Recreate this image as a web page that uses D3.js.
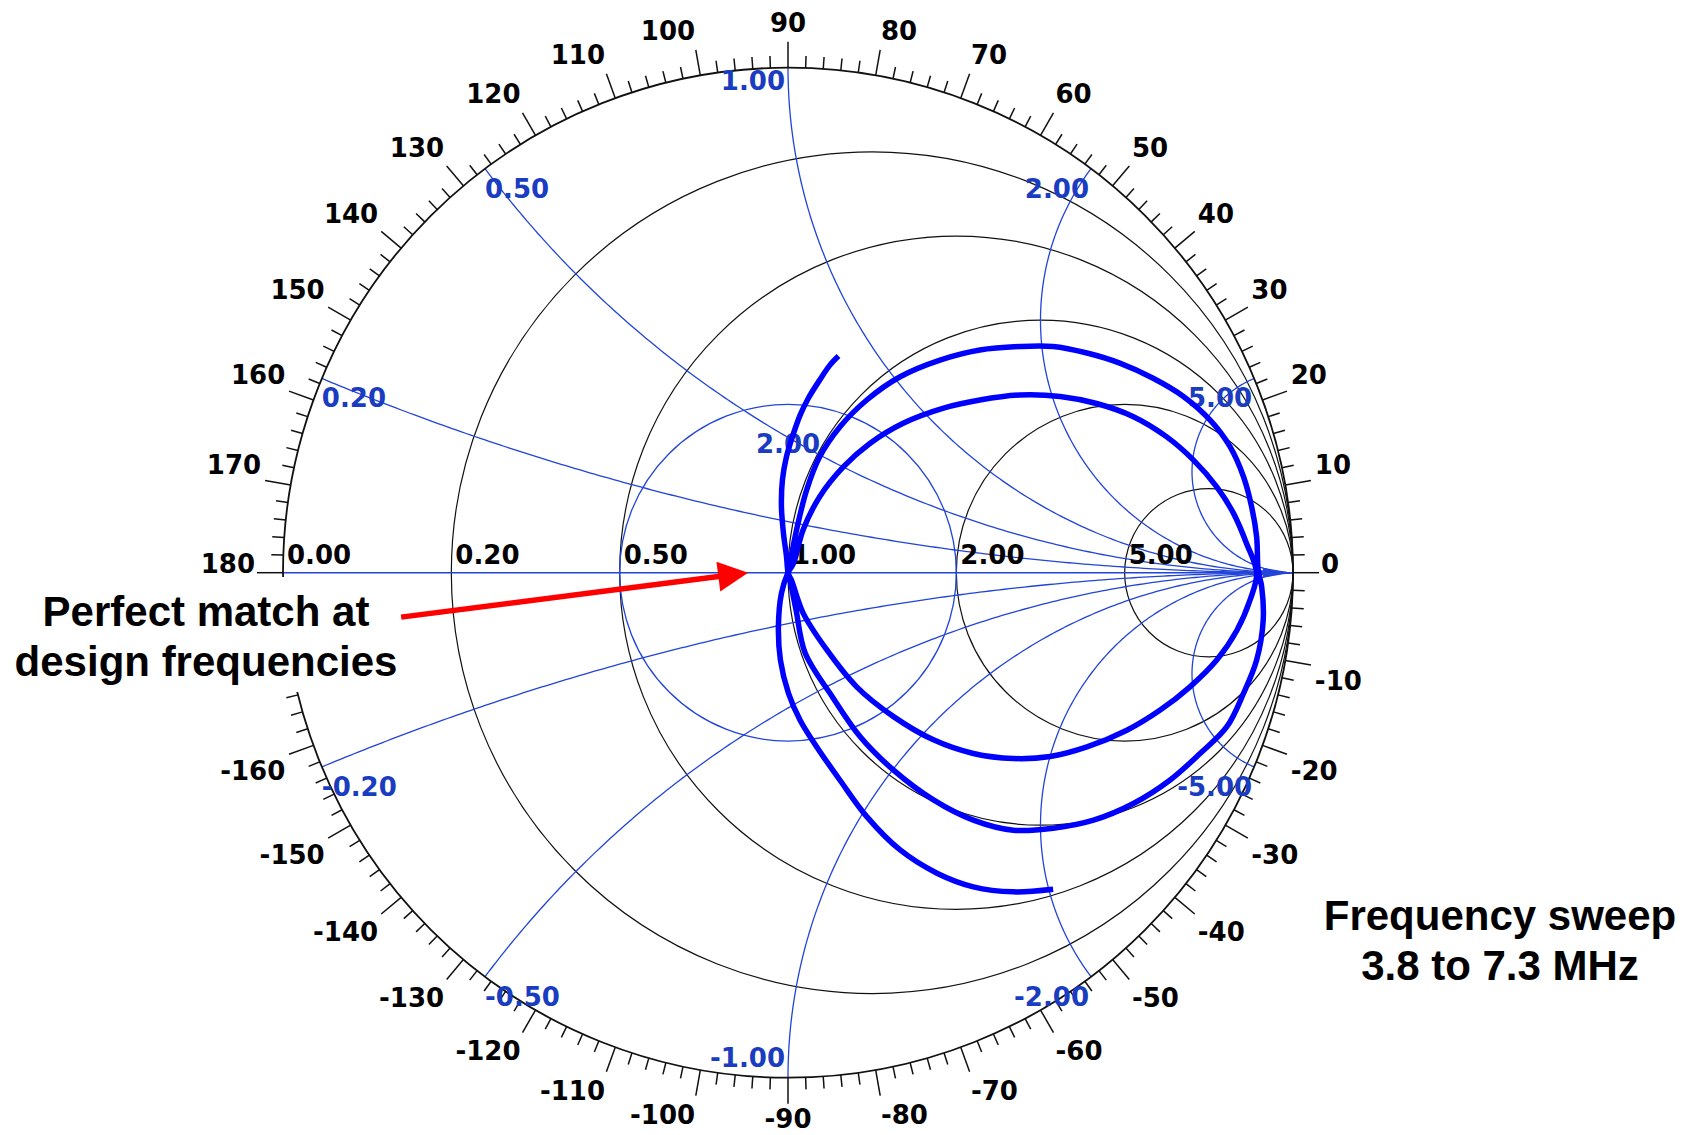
<!DOCTYPE html>
<html><head><meta charset="utf-8">
<script src="https://cdn.jsdelivr.net/npm/d3@7"></script>
<style>html,body{margin:0;padding:0;background:#fff;overflow:hidden;} svg{display:block;}</style>
</head><body>
<script>
// ---------------- data ----------------
const resistanceCircles = [0.2, 0.5, 1, 2, 5];
const resistanceLabelValues = [0, 0.2, 0.5, 1, 2, 5];
const resistanceLabels = ["0.00", "0.20", "0.50", "1.00", "2.00", "5.00"];
const reactanceArcs = [0.2, 0.5, 1, 2, 5, -0.2, -0.5, -1, -2, -5];
const reactanceLabels = ["0.20", "0.50", "1.00", "2.00", "5.00", "-0.20", "-0.50", "-1.00", "-2.00", "-5.00"];
const vswrCircles = [2];
const vswrLabels = ["2.00"];
const angleLabels = [0, 10, 20, 30, 40, 50, 60, 70, 80, 90, 100, 110, 120, 130, 140, 150, 160, 170, 180,
  -10, -20, -30, -40, -50, -60, -70, -80, -90, -100, -110, -120, -130, -140, -150, -160];

// measured trace (reflection coefficient, re / im), 3.8 to 7.3 MHz
const sweepStart = [[0.100,0.429],[0.083,0.411],[0.063,0.382],[0.040,0.345],[0.024,0.312],[0.011,0.276],
  [-0.003,0.230],[-0.011,0.184],[-0.013,0.131],[-0.009,0.078],[-0.003,0.032],[0,0]];
const loop1Lower = [[0.004,-0.015],[0.016,-0.074],[0.034,-0.159],[0.088,-0.246],[0.143,-0.325],[0.209,-0.391],
  [0.288,-0.450],[0.367,-0.490],[0.446,-0.510],[0.525,-0.506],[0.605,-0.490],[0.684,-0.457],[0.756,-0.411],
  [0.816,-0.358],[0.869,-0.305],[0.902,-0.239],[0.928,-0.173],[0.941,-0.094],[0.938,-0.028]];
const loop1Upper = [[0.931,0.005],[0.928,0.071],[0.918,0.131],[0.902,0.190],[0.875,0.250],[0.836,0.302],
  [0.783,0.349],[0.723,0.385],[0.657,0.415],[0.592,0.435],[0.525,0.448],[0.459,0.448],[0.380,0.441],
  [0.301,0.421],[0.222,0.388],[0.156,0.342],[0.103,0.289],[0.063,0.230],[0.037,0.164],[0.017,0.085],
  [0.006,0.030],[0,0]];
const loop2Lower = [[0.007,-0.015],[0.030,-0.080],[0.077,-0.153],[0.136,-0.226],[0.209,-0.285],[0.288,-0.331],
  [0.367,-0.358],[0.446,-0.368],[0.519,-0.364],[0.592,-0.345],[0.671,-0.312],[0.737,-0.272],[0.796,-0.226],
  [0.849,-0.173],[0.889,-0.114],[0.915,-0.054],[0.928,-0.001]];
const loop2Upper = [[0.908,0.058],[0.882,0.118],[0.849,0.170],[0.803,0.223],[0.750,0.269],[0.684,0.309],
  [0.611,0.335],[0.539,0.349],[0.459,0.352],[0.380,0.342],[0.308,0.326],[0.228,0.296],[0.162,0.256],
  [0.110,0.210],[0.063,0.151],[0.030,0.085],[0.011,0.019],[0,0]];
const sweepEnd = [[-0.013,-0.041],[-0.019,-0.107],[-0.015,-0.173],[0.001,-0.239],[0.024,-0.292],[0.057,-0.345],
  [0.103,-0.411],[0.156,-0.483],[0.222,-0.549],[0.295,-0.595],[0.367,-0.622],[0.446,-0.632],[0.525,-0.627]];

const annotationLeft = ["Perfect match at", "design frequencies"];
const annotationRight = ["Frequency sweep", "3.8 to 7.3 MHz"];
const arrowFrom = [-0.766, -0.088];
const arrowTo = [-0.079, 0.0];

// ---------------- drawing ----------------
const W = 1698, H = 1135;
const cx = 788, cy = 572.7, R = 505;
const svg = d3.select("body").append("svg").attr("width", W).attr("height", H);
svg.append("rect").attr("width", W).attr("height", H).attr("fill", "#fff");

const xS = d3.scaleLinear().domain([-1, 1]).range([cx - R, cx + R]);
const yS = d3.scaleLinear().domain([-1, 1]).range([cy + R, cy - R]);
const unit = xS(1) - xS(0);

const BLACK = "#111", BLUE_LINE = "#2244d8", BLUE_TXT = "#1a3cc0", TRACE = "#0000ff";
const LABEL_FONT = "'DejaVu Sans', sans-serif";
const LABEL_SIZE = 26, LABEL_WEIGHT = "bold";

const grid = svg.append("g");

// resistance circles (black)
grid.selectAll("circle.r").data(resistanceCircles).join("circle")
  .attr("cx", r => xS(r / (r + 1))).attr("cy", yS(0))
  .attr("r", r => unit / (r + 1))
  .attr("fill", "none").attr("stroke", BLACK).attr("stroke-width", 1.2);

// reactance arcs (blue)
function arcPoints(x) {
  const s = Math.sign(x), a = Math.abs(x);
  const c = [1, 1 / a], rho = 1 / a;
  const q = [(a * a - 1) / (a * a + 1), 2 * a / (a * a + 1)];
  const t0 = -Math.PI / 2;
  let t1 = Math.atan2(q[1] - c[1], q[0] - c[0]);
  if (t1 > t0) t1 -= 2 * Math.PI;
  return d3.range(0, 201).map(i => {
    const t = t0 + (t1 - t0) * i / 200;
    return [c[0] + rho * Math.cos(t), s * (c[1] + rho * Math.sin(t))];
  });
}
const gLine = d3.line().x(d => xS(d[0])).y(d => yS(d[1]));
reactanceArcs.forEach(x => {
  grid.append("path").attr("d", gLine(arcPoints(x)))
    .attr("fill", "none").attr("stroke", BLUE_LINE).attr("stroke-width", 1.3);
});
// real axis
grid.append("line").attr("x1", xS(-1)).attr("x2", xS(1)).attr("y1", yS(0)).attr("y2", yS(0))
  .attr("stroke", BLUE_LINE).attr("stroke-width", 1.6);
// vswr circle
vswrCircles.forEach(s => {
  grid.append("circle").attr("cx", xS(0)).attr("cy", yS(0)).attr("r", unit * (s - 1) / (s + 1))
    .attr("fill", "none").attr("stroke", BLUE_LINE).attr("stroke-width", 1.3);
});
// small arrow head at open-circuit end of axis
grid.append("path")
  .attr("d", `M${xS(1) - 1},${yS(0)} L${xS(1) - 30},${yS(0) - 5} L${xS(1) - 30},${yS(0) + 5} Z`)
  .attr("fill", BLUE_LINE);

// outer circle + ticks
grid.append("circle").attr("cx", xS(0)).attr("cy", yS(0)).attr("r", unit)
  .attr("fill", "none").attr("stroke", BLACK).attr("stroke-width", 1.8);
const ticks = d3.range(-178, 181, 2);
grid.selectAll("line.tick").data(ticks).join("line")
  .attr("x1", a => cx + R * Math.cos(a * Math.PI / 180))
  .attr("y1", a => cy - R * Math.sin(a * Math.PI / 180))
  .attr("x2", a => cx + (R + (a % 10 === 0 ? 26 : 12)) * Math.cos(a * Math.PI / 180))
  .attr("y2", a => cy - (R + (a % 10 === 0 ? 26 : 12)) * Math.sin(a * Math.PI / 180))
  .attr("stroke", BLACK).attr("stroke-width", 1.5);

// angle labels: nearest corner of the label's font box placed on a ring outside the chart
const ASCENT = 0.93 * LABEL_SIZE, DESCENT = 0.23 * LABEL_SIZE;
const LABEL_RING = R + 30;
angleLabels.forEach(a => {
  const rad = a * Math.PI / 180, c = Math.cos(rad), s = Math.sin(rad);
  const px = cx + LABEL_RING * c, py = cy - LABEL_RING * s;
  const anchor = c > 0.01 ? "start" : (c < -0.01 ? "end" : "middle");
  let y;
  if (Math.abs(s) < 1e-6) y = cy;
  else if (s > 0) y = py - DESCENT;
  else y = Math.min(py + ASCENT, H - DESCENT - 1);
  svg.append("text").text(String(a))
    .attr("x", Math.abs(s) < 1e-6 ? cx + (R + 28) * c : px).attr("y", y)
    .attr("text-anchor", anchor)
    .attr("font-family", LABEL_FONT).attr("font-size", LABEL_SIZE).attr("font-weight", LABEL_WEIGHT)
    .attr("fill", "#000");
});

// resistance labels
resistanceLabelValues.forEach((r, i) => {
  svg.append("text").text(resistanceLabels[i])
    .attr("x", xS((r - 1) / (r + 1)) + 4).attr("y", yS(0) - 9)
    .attr("font-family", LABEL_FONT).attr("font-size", LABEL_SIZE).attr("font-weight", LABEL_WEIGHT)
    .attr("fill", "#000");
});

// reactance labels
reactanceArcs.forEach((x, i) => {
  const pts = arcPoints(x), q = pts[pts.length - 1];
  const qx = xS(q[0]), qy = yS(q[1]);
  let anchor, lx, ly;
  if (Math.abs(x) === 1) {
    anchor = "end"; lx = qx - 3; ly = x > 0 ? qy + 22 : qy - 11;
  } else if (q[0] < 0) {
    anchor = "start"; lx = qx; ly = qy + 29;
  } else {
    anchor = "end"; lx = qx - 2; ly = qy + 29;
  }
  svg.append("text").text(reactanceLabels[i]).attr("x", lx).attr("y", ly)
    .attr("text-anchor", anchor)
    .attr("font-family", LABEL_FONT).attr("font-size", LABEL_SIZE).attr("font-weight", LABEL_WEIGHT)
    .attr("fill", BLUE_TXT);
});

// vswr label
vswrCircles.forEach((s, i) => {
  svg.append("text").text(vswrLabels[i])
    .attr("x", xS(0)).attr("y", yS((s - 1) / (s + 1)) + 49)
    .attr("text-anchor", "middle")
    .attr("font-family", LABEL_FONT).attr("font-size", LABEL_SIZE).attr("font-weight", LABEL_WEIGHT)
    .attr("fill", BLUE_TXT);
});

// trace
const trace = [].concat(sweepStart, loop1Lower, loop1Upper, loop2Lower, loop2Upper, sweepEnd);
svg.append("path")
  .attr("d", d3.line().x(d => xS(d[0])).y(d => yS(d[1])).curve(d3.curveCatmullRom.alpha(0.5))(trace))
  .attr("fill", "none").attr("stroke", TRACE).attr("stroke-width", 5.5)
  .attr("stroke-linejoin", "round").attr("stroke-linecap", "butt");

// left annotation with white background
svg.append("rect").attr("x", 0).attr("y", 577).attr("width", 420).attr("height", 115).attr("fill", "#fff");
const ANN_FONT = "'Liberation Sans', Arial, sans-serif";
function block(lines, x, y, dy) {
  const t = svg.append("text").attr("text-anchor", "middle").attr("font-family", ANN_FONT)
    .attr("font-weight", "bold").attr("font-size", 42).attr("fill", "#000");
  lines.forEach((s, i) => t.append("tspan").attr("x", x).attr("y", y + i * dy).text(s));
}
block(annotationLeft, 206, 626, 50);
block(annotationRight, 1500, 930, 50);

// red arrow
(function () {
  const x0 = xS(arrowFrom[0]), y0 = yS(arrowFrom[1]);
  const x1 = xS(arrowTo[0]), y1 = yS(arrowTo[1]);
  const ang = Math.atan2(y1 - y0, x1 - x0);
  const hl = 30, hw = 15;
  const bx = x1 - hl * Math.cos(ang), by = y1 - hl * Math.sin(ang);
  svg.append("line").attr("x1", x0).attr("y1", y0).attr("x2", bx + 2 * Math.cos(ang)).attr("y2", by + 2 * Math.sin(ang))
    .attr("stroke", "#ff0000").attr("stroke-width", 5.5);
  const px = -Math.sin(ang), py = Math.cos(ang);
  svg.append("path")
    .attr("d", `M${x1},${y1} L${bx + hw * px},${by + hw * py} L${bx - hw * px},${by - hw * py} Z`)
    .attr("fill", "#ff0000");
})();
</script>
</body></html>
